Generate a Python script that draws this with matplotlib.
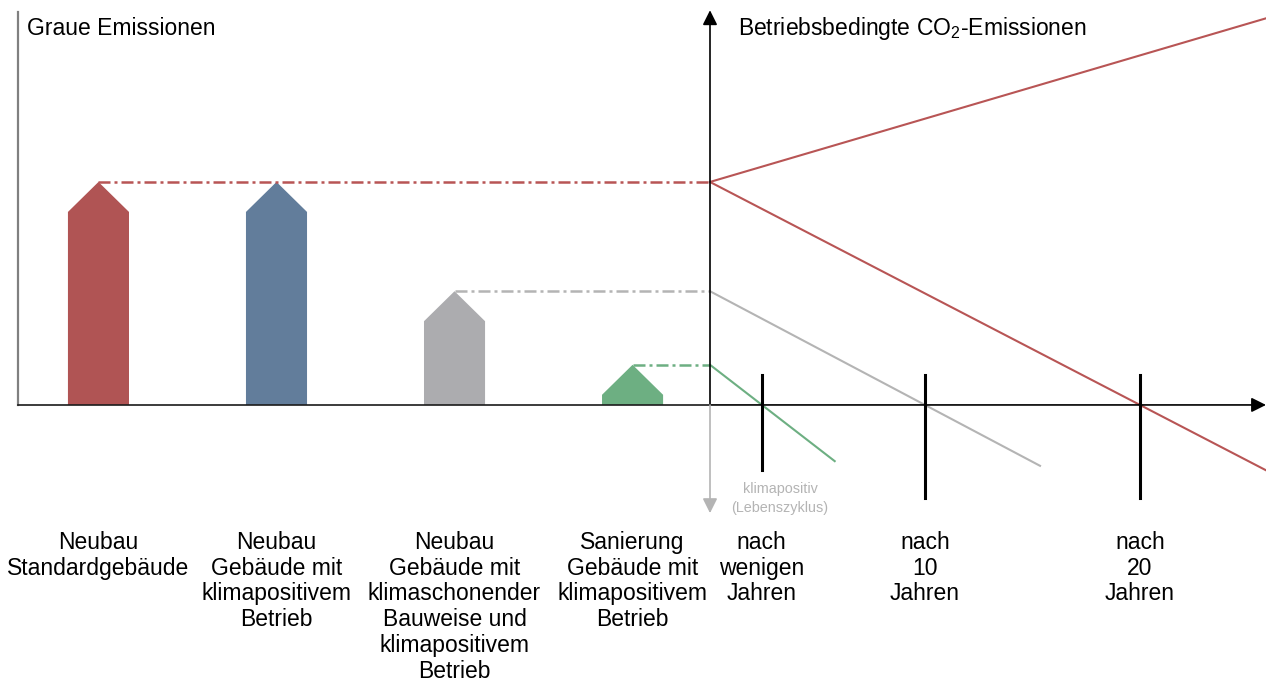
import matplotlib.pyplot as plt
import numpy as np

plt.rcParams['font.family'] = ['Liberation Sans', 'DejaVu Sans']
plt.rcParams['mathtext.default'] = 'regular'

# Daten (schematisch, Einheiten: rote Graue Emissionen = 100)
kategorien = ["Neubau\nStandardgebäude",
              "Neubau\nGebäude mit\nklimapositivem\nBetrieb",
              "Neubau\nGebäude mit\nklimaschonender\nBauweise und\nklimapositivem\nBetrieb",
              "Sanierung\nGebäude mit\nklimapositivem\nBetrieb"]
graue_emissionen = [100, 100, 51, 18]
haus_farben = ['#b05454', '#627d9b', '#acacaf', '#6daf82']

# Betriebsbedingte Emissionen über die Jahre (Start- und Endwerte der Linien)
linie_start = [100, 100, 51, 18]
linie_ende_jahr = [25.9, 25.9, 15.35, 5.8]
linie_ende_wert = [173.5, -29.5, -27.3, -25.2]
linie_farben = ['#b85555', '#b85555', '#b4b4b4', '#6daf82']

zeit_labels = ["nach\nwenigen\nJahren", "nach\n10\nJahren", "nach\n20\nJahren"]
zeit_jahre = [2.4, 10, 20]
zeit_strich_unten = [-29, -41.7, -41.7]

ylim = (-123.8, 181.6)
dach = 13.45      # Dachhöhe der Häuser
breite = 0.343    # Hausbreite

fig = plt.figure(figsize=(12.66, 6.81), dpi=100)
ax1 = fig.add_axes([18 / 1266, 0, (710 - 18) / 1266, 1])
ax2 = fig.add_axes([710 / 1266, 0, (1266 - 710) / 1266, 1])
for ax in (ax1, ax2):
    ax.set_ylim(*ylim)
    ax.axis('off')
ax1.set_xlim(-0.452, 3.435)
ax2.set_xlim(0, 25.86)
x_links, x_rechts = ax1.get_xlim()

# Achsen
ax1.plot([x_links, x_links], [0, 176], color='#808080', lw=1.6, clip_on=False)
ax1.plot([x_links, x_rechts], [0, 0], color='#1a1a1a', lw=1.2, clip_on=False)
ax2.annotate('', xy=(25.86, 0), xytext=(0, 0), annotation_clip=False,
             arrowprops=dict(arrowstyle='-|>', color='black', lw=1.2, mutation_scale=22, shrinkA=0, shrinkB=0))
ax2.annotate('', xy=(0, 177), xytext=(0, 0), annotation_clip=False,
             arrowprops=dict(arrowstyle='-|>', color='black', lw=1.2, mutation_scale=22, shrinkA=0, shrinkB=0))
ax2.annotate('', xy=(0, -48.5), xytext=(0, 0), annotation_clip=False,
             arrowprops=dict(arrowstyle='-|>', color='#b4b4b4', lw=1.2, mutation_scale=22, shrinkA=0, shrinkB=0))

# Häuser (graue Emissionen)
for i, (h, farbe) in enumerate(zip(graue_emissionen, haus_farben)):
    xs = [i - breite / 2, i - breite / 2, i, i + breite / 2, i + breite / 2]
    ys = [0, h - dach, h, h - dach, 0]
    ax1.fill(xs, ys, color=farbe, lw=0)
    ax1.text(i, -56.4, kategorien[i], ha='center', va='top', fontsize=16.5, linespacing=1.16)

# gestrichelte Verbindungslinien
for i in [0, 2, 3]:
    ax1.plot([i, x_rechts], [graue_emissionen[i]] * 2, color=linie_farben[i],
             lw=1.8, ls=(0, (4.8, 1.6, 1.2, 1.6)), clip_on=False)

# Betriebsbedingte Linien
for s, tj, tw, farbe in zip(linie_start, linie_ende_jahr, linie_ende_wert, linie_farben):
    ax2.plot([0, tj], [s, tw], color=farbe, lw=1.5, clip_on=False)

# Zeitmarken
for j, lab, unten in zip(zeit_jahre, zeit_labels, zeit_strich_unten):
    ax2.plot([j, j], [dach, unten], color='black', lw=2.2)
    ax2.text(j, -56.4, lab, ha='center', va='top', fontsize=16.5, linespacing=1.16)

ax2.text(3.26, -42.0, "klimapositiv\n(Lebenszyklus)", ha='center', va='center',
         fontsize=10.4, color='#b4b4b4', linespacing=1.4)

ax1.text(-0.402, 169.0, "Graue Emissionen", ha='left', va='center', fontsize=16.5)
ax2.text(1.30, 169.0, "Betriebsbedingte CO$_2$-Emissionen", ha='left', va='center', fontsize=16.5)

fig.savefig('out.png', dpi=100)
